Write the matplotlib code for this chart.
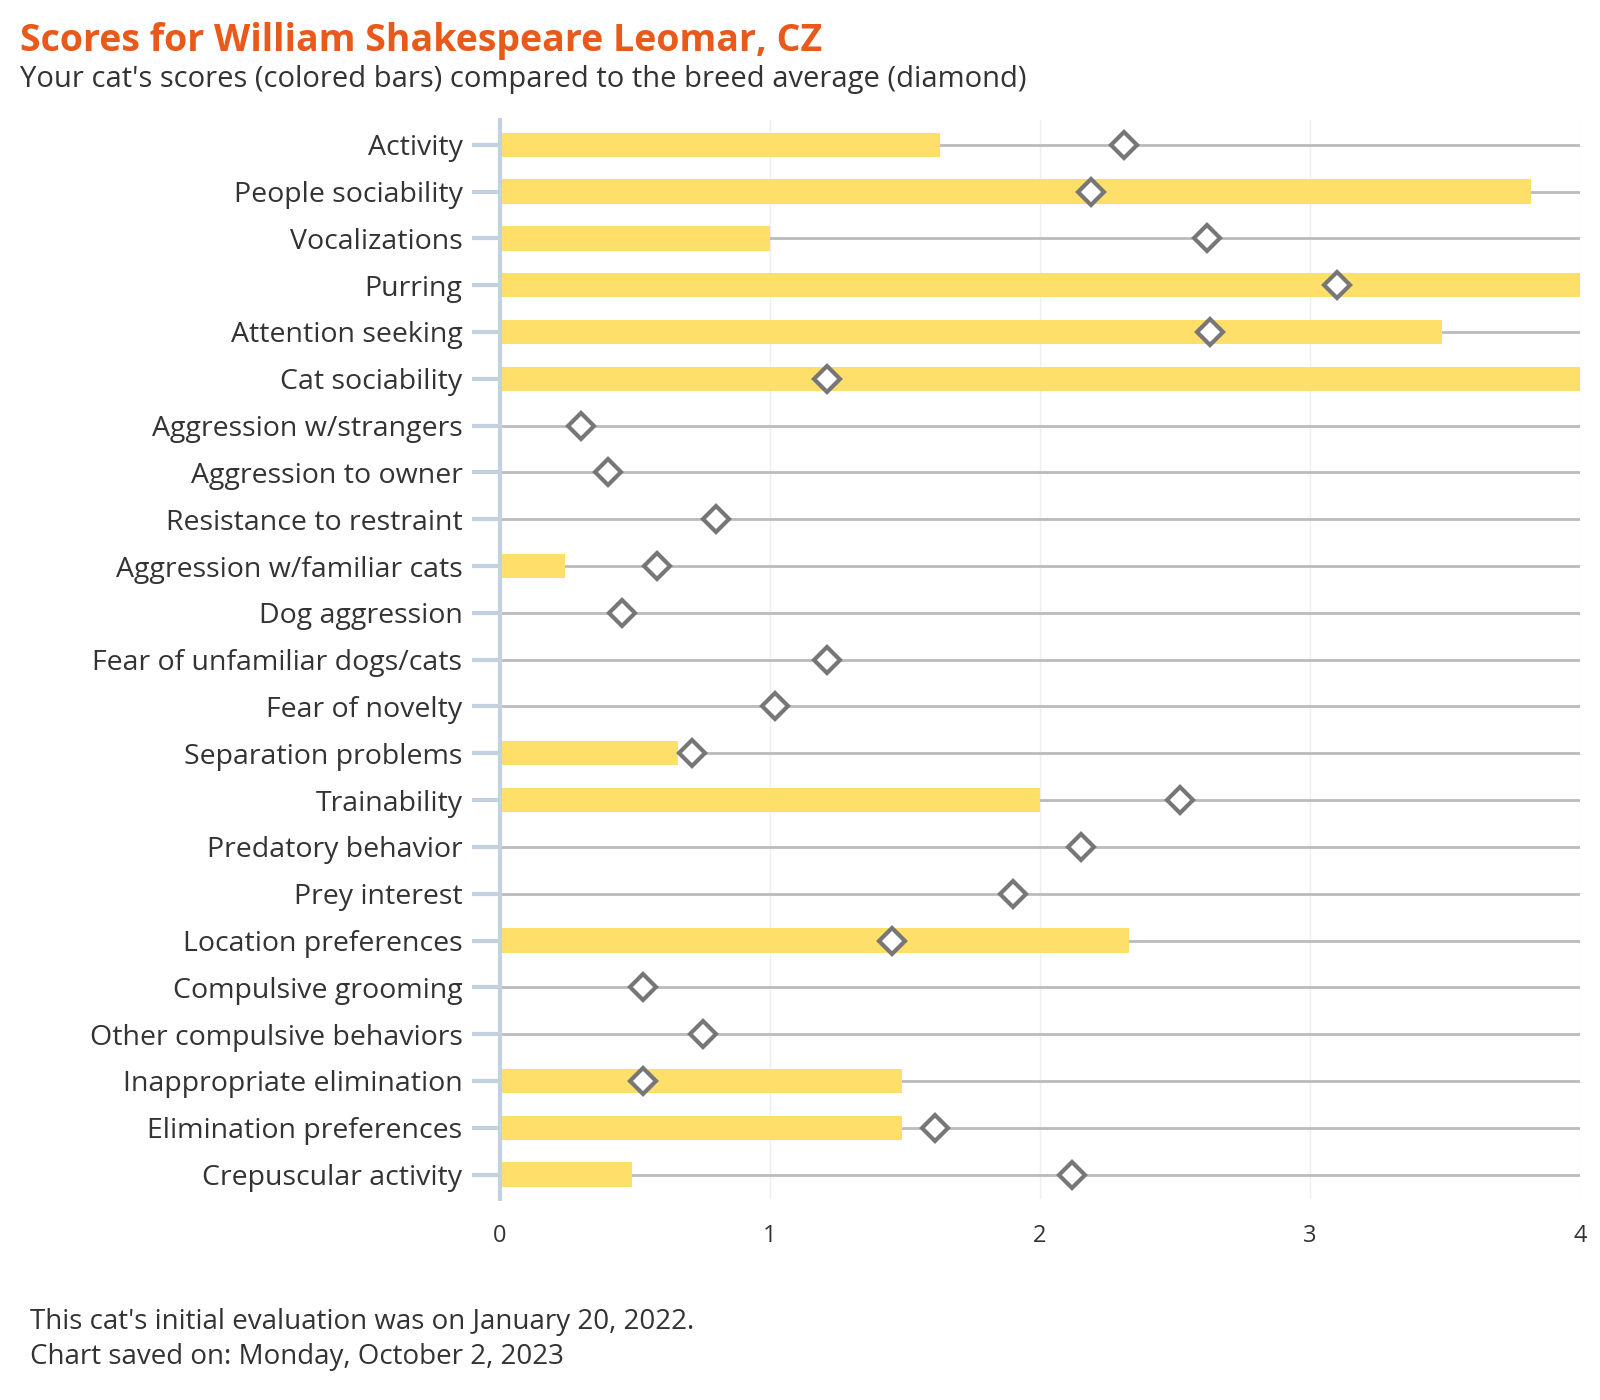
import matplotlib.pyplot as plt
import numpy as np

plt.rcParams['font.family'] = ['Open Sans', 'DejaVu Sans']

# Datos
categorias = [
    "Activity", "People sociability", "Vocalizations", "Purring",
    "Attention seeking", "Cat sociability", "Aggression w/strangers",
    "Aggression to owner", "Resistance to restraint",
    "Aggression w/familiar cats", "Dog aggression",
    "Fear of unfamiliar dogs/cats", "Fear of novelty", "Separation problems",
    "Trainability", "Predatory behavior", "Prey interest",
    "Location preferences", "Compulsive grooming",
    "Other compulsive behaviors", "Inappropriate elimination",
    "Elimination preferences", "Crepuscular activity",
]
puntaje_gato = [1.63, 3.82, 1.0, 4.0, 3.49, 4.0, 0.0, 0.0, 0.0, 0.24, 0.0,
                0.0, 0.0, 0.66, 2.0, 0.0, 0.0, 2.33, 0.0, 0.0, 1.49, 1.49, 0.49]
promedio_raza = [2.31, 2.19, 2.62, 3.10, 2.63, 1.21, 0.30, 0.40, 0.80, 0.58,
                 0.45, 1.21, 1.02, 0.71, 2.52, 2.15, 1.90, 1.45, 0.53, 0.75,
                 0.53, 1.61, 2.12]
ticks_x = [0, 1, 2, 3, 4]

color_texto = '#333333'
fig = plt.figure(figsize=(16, 14), dpi=100)
ax = fig.add_axes([0.3125, 0.1436, 0.675, 0.7704])

y = np.arange(len(categorias))

# Lineas de fondo
ax.hlines(y, 0, 4, color='#BBBBBB', linewidth=2, zorder=1)
# Barras
ax.barh(y, puntaje_gato, height=0.52, color='#FDDF69', zorder=2)
# Promedio de la raza
ax.plot(promedio_raza, y, linestyle='none', marker='D', markersize=13,
        markerfacecolor='white', markeredgecolor='#777777',
        markeredgewidth=3, zorder=3)

ax.set_xlim(0, 4)
ax.set_ylim(len(categorias) - 0.48, -0.52)
ax.set_yticks(y)
ax.set_yticklabels(categorias, fontsize=20.5, color=color_texto)
ax.set_xticks(ticks_x)
ax.set_xticklabels([str(t) for t in ticks_x], fontsize=17, color=color_texto)
ax.tick_params(axis='y', length=20, width=3, color='#C3D0E0', pad=7)
ax.tick_params(axis='x', length=0, pad=18)
ax.grid(axis='x', color='#EEEEEE', linewidth=1, zorder=0)
ax.set_axisbelow(True)

for lado in ['top', 'right', 'bottom']:
    ax.spines[lado].set_visible(False)
ax.spines['left'].set_color('#C3D0E0')
ax.spines['left'].set_linewidth(3)

# Titulos
fig.text(0.0125, 0.971, "Scores for William Shakespeare Leomar, CZ",
         fontsize=27, fontweight='bold', color='#E8591A', va='center')
fig.text(0.0125, 0.943,
         "Your cat's scores (colored bars) compared to the breed average (diamond)",
         fontsize=21, color=color_texto, va='center')

# Pie
fig.text(0.019, 0.056, "This cat's initial evaluation was on January 20, 2022.",
         fontsize=20, color=color_texto, va='center')
fig.text(0.019, 0.031, "Chart saved on: Monday, October 2, 2023",
         fontsize=20, color=color_texto, va='center')

fig.savefig('out.png', dpi=100)
